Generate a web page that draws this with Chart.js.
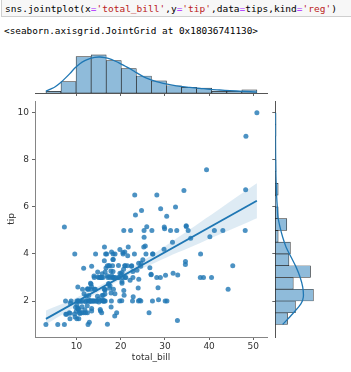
<!DOCTYPE html>
<html lang="en">
<head>
<meta charset="UTF-8">
<title>jointplot</title>
<script src="https://cdn.jsdelivr.net/npm/chart.js"></script>
<style>
    body { margin: 0; background: #fff; width: 351px; height: 372px; overflow: hidden; position: relative; }
    canvas { position: absolute; left: 0; top: 0; }
    .code {
        position: absolute; left: 1px; top: -3px; width: 360px; height: 20px;
        background: #f7f7f7; border: 1px solid #cfcfcf;
        font-family: "DejaVu Sans Mono", monospace; font-size: 9.5px; line-height: 12px;
        color: #000; box-sizing: border-box; padding: 5px 0 0 3px; white-space: pre;
    }
    .o { color: #aa22ff; }
    .s { color: #ba2121; }
    .out {
        position: absolute; left: 4px; top: 25px;
        font-family: "DejaVu Sans Mono", monospace; font-size: 9.4px; line-height: 12px;
        color: #000; white-space: pre;
    }
</style>
</head>
<body>
<div class="code">sns.jointplot(x<span class="o">=</span><span class="s">'total_bill'</span>,y<span class="o">=</span><span class="s">'tip'</span>,data<span class="o">=</span>tips,kind<span class="o">=</span><span class="s">'reg'</span>)</div>
<div class="out">&lt;seaborn.axisgrid.JointGrid at 0x18036741130&gt;</div>
<canvas id="joint" width="351" height="372"></canvas>
<canvas id="margX" width="351" height="372"></canvas>
<canvas id="margY" width="351" height="372"></canvas>

<script>
// scatter data (total_bill, tip)
const totalBill = [16.99,10.34,21.01,23.68,24.59,25.29,8.77,26.88,15.04,14.78,10.27,35.26,15.42,18.43,14.83,21.58,10.33,16.29,16.97,20.65,17.92,20.29,15.77,39.42,19.82,17.81,13.37,12.69,21.70,19.65,9.55,18.35,15.06,20.69,17.78,24.06,16.31,16.93,18.69,31.27,16.04,17.46,13.94,9.68,30.40,18.29,22.23,32.40,28.55,18.04,12.54,10.29,34.81,9.94,25.56,19.49,38.01,26.41,11.24,48.27,20.29,13.81,11.02,18.29,17.59,20.08,16.45,3.07,20.23,15.01,12.02,17.07,26.86,25.28,14.73,10.51,17.92,27.20,22.76,17.29,19.44,16.66,10.07,32.68,15.98,34.83,13.03,18.28,24.71,21.16,28.97,22.49,5.75,16.32,22.75,40.17,27.28,12.03,21.01,12.46,11.35,15.38,44.30,22.42,20.92,15.36,20.49,25.21,18.24,14.31,14.00,7.25,38.07,23.95,25.71,17.31,29.93,10.65,12.43,24.08,11.69,13.42,14.26,15.95,12.48,29.80,8.52,14.52,11.38,22.82,19.08,20.27,11.17,12.26,18.26,8.51,10.33,14.15,16.00,13.16,17.47,34.30,41.19,27.05,16.43,8.35,18.64,11.87,9.78,7.51,14.07,13.13,17.26,24.55,19.77,29.85,48.17,25.00,13.39,16.49,21.50,12.66,16.21,13.81,17.51,24.52,20.76,31.71,10.59,10.63,50.81,15.81,7.25,31.85,16.82,32.90,17.89,14.48,9.60,34.63,34.65,23.33,45.35,23.17,40.55,20.69,20.90,30.46,18.15,23.10,15.69,19.81,28.44,15.48,16.58,7.56,10.34,43.11,13.00,13.51,18.71,12.74,13.00,16.40,20.53,16.47,26.59,38.73,24.27,12.76,30.06,25.89,48.33,13.27,28.17,12.90,28.15,11.59,7.74,30.14,12.16,13.42,8.58,15.98,13.42,16.27,10.09,20.45,13.28,22.12,24.01,15.69,11.61,10.77,15.53,10.07,12.60,32.83,35.83,29.03,27.18,22.67,17.82,18.78];
const tips = [1.01,1.66,3.50,3.31,3.61,4.71,2.00,3.12,1.96,3.23,1.71,5.00,1.57,3.00,3.02,3.92,1.67,3.71,3.50,3.35,4.08,2.75,2.23,7.58,3.18,2.34,2.00,2.00,4.30,3.00,1.45,2.50,3.00,2.45,3.27,3.60,2.00,3.07,2.31,5.00,2.24,2.54,3.06,1.32,5.60,3.00,5.00,6.00,2.05,3.00,2.50,2.60,5.20,1.56,4.34,3.51,3.00,1.50,1.76,6.73,3.21,2.00,1.98,3.76,2.64,3.15,2.47,1.00,2.01,2.09,1.97,3.00,3.14,5.00,2.20,1.25,3.08,4.00,3.00,2.71,3.00,3.40,1.83,5.00,2.03,5.17,2.00,4.00,5.85,3.00,3.00,3.50,1.00,4.30,3.25,4.73,4.00,1.50,3.00,1.50,2.50,3.00,2.50,3.48,4.08,1.64,4.06,4.29,3.76,4.00,3.00,1.00,4.00,2.55,4.00,3.50,5.07,1.50,1.80,2.92,2.31,1.68,2.50,2.00,2.52,4.20,1.48,2.00,2.00,2.18,1.50,2.83,1.50,2.00,3.25,1.25,2.00,2.00,2.00,2.75,3.50,6.70,5.00,5.00,2.30,1.50,1.36,1.63,1.73,2.00,2.50,2.00,2.74,2.00,2.00,5.14,5.00,3.75,2.61,2.00,3.50,2.50,2.00,2.00,3.00,3.48,2.24,4.50,1.61,2.00,10.00,3.16,5.15,3.18,4.00,3.11,2.00,2.00,4.00,3.55,3.68,5.65,3.50,6.50,3.00,5.00,3.50,2.00,3.50,4.00,1.50,4.19,2.56,2.02,4.00,1.44,2.00,5.00,2.00,2.00,4.00,2.01,2.00,2.50,4.00,3.23,3.41,3.00,2.03,2.23,2.00,5.16,9.00,2.50,6.50,1.10,3.00,1.50,1.44,3.09,2.20,3.48,1.92,3.00,1.58,2.50,2.00,3.00,2.72,2.88,2.00,3.00,3.39,1.47,3.00,1.25,1.00,1.17,4.67,5.92,2.00,2.00,1.75,3.00];

// regression line + 95% band
const regX = [3.07, 50.81];
const regY = [1.24, 6.26];
const bandX     = [3.07, 8, 13, 18, 23, 28, 33, 38, 43, 48, 50.81];
const bandUpper = [1.60, 1.98, 2.43, 2.92, 3.47, 4.07, 4.71, 5.35, 6.00, 6.64, 7.00];
const bandLower = [1.00, 1.56, 2.15, 2.70, 3.21, 3.65, 4.07, 4.47, 4.88, 5.28, 5.52];

// marginal histogram of total_bill (bin centres, counts) + kde
const billBins   = [4.78, 8.19, 11.60, 15.01, 18.42, 21.83, 25.24, 28.65, 32.06, 35.47, 38.88, 42.29, 45.70, 49.11];
const billCounts = [2, 14, 45, 47, 40, 30, 21, 15, 9, 7, 6, 2, 2, 4];
const billKdeX = [3.07,3.96,5.09,6.22,7.35,8.48,9.62,10.75,11.88,13.0,14.14,15.27,16.4,17.53,18.67,19.8,20.93,22.06,23.19,24.32,25.45,26.58,28.1,29.6,31.1,33.4,35.6,37.9,40.2,42.4,44.7,47.7,50.81];
const billKdeY = [2.1,4.5,7.4,11.9,17.7,23.9,30.8,36.2,39.9,42.4,44.0,44.4,43.6,42.0,39.5,36.6,33.3,30.0,26.3,22.6,19.3,16.9,14.0,11.9,10.3,8.2,7.0,5.8,4.5,3.7,2.9,2.1,1.2];

// marginal histogram of tip + kde
const tipBins   = [1.25,1.75,2.25,2.75,3.25,3.75,4.25,4.75,5.25,5.75,6.25,6.75,7.25,7.75,8.25,8.75,9.25,9.75];
const tipCounts = [17, 28, 53, 25, 49, 19, 21, 4, 16, 4, 1, 4, 0, 1, 0, 0, 1, 1];
const tipKdeY = [1.0,1.46,1.89,2.17,2.6,3.02,3.45,3.87,4.3,4.72,5.15,5.57,6.0,6.43,6.85,7.28,8.0,8.98,10.0];
const tipKdeX = [10.2,24.2,35.8,39.0,38.1,34.4,28.8,21.9,14.9,10.2,6.5,3.7,2.8,1.9,1.4,0.9,0.5,0.3,0.2];

const xTicks = [10, 20, 30, 40, 50];
const yTicks = [2, 4, 6, 8, 10];

Chart.defaults.font.family = 'DejaVu Sans';
Chart.defaults.font.size = 9;
Chart.defaults.color = '#333';
Chart.defaults.animation = false;
Chart.defaults.responsive = false;
Chart.defaults.plugins.legend.display = false;
Chart.defaults.plugins.tooltip.enabled = false;

const blue = '#1f77b4';
const barFill = 'rgb(143,187,218)';
const barEdge = 'rgba(20,20,20,0.9)';

function pts(xs, ys) { return xs.map((x, i) => ({ x: x, y: ys[i] })); }

// main joint axes
new Chart(document.getElementById('joint'), {
    type: 'scatter',
    data: {
        datasets: [
            { type: 'line', data: pts(regX, regY), borderColor: blue, borderWidth: 1.8, pointRadius: 0, fill: false, order: 0 },
            { type: 'line', data: pts(bandX, bandUpper), borderWidth: 0, pointRadius: 0, tension: 0.3,
              fill: '+1', backgroundColor: 'rgba(31,119,180,0.15)', order: 1 },
            { type: 'line', data: pts(bandX, bandLower), borderWidth: 0, pointRadius: 0, tension: 0.3, fill: false, order: 2 },
            { data: pts(totalBill, tips), backgroundColor: 'rgba(31,119,180,0.8)', pointRadius: 2.5, borderWidth: 0, order: 3 }
        ]
    },
    options: {
        layout: { padding: { left: 4, top: 101, right: 84, bottom: 9 } },
        scales: {
            x: {
                type: 'linear', min: 0.6, max: 53.1,
                afterBuildTicks: s => { s.ticks = xTicks.map(v => ({ value: v })); },
                afterFit: s => { s.height = 26; },
                grid: { drawOnChartArea: false, tickLength: 3, tickColor: '#666' },
                border: { color: '#858585', width: 1 },
                ticks: { padding: 1, maxRotation: 0 },
                title: { display: true, text: 'total_bill', padding: { top: 0, bottom: 0 } }
            },
            y: {
                type: 'linear', min: 0.47, max: 10.5,
                afterBuildTicks: s => { s.ticks = yTicks.map(v => ({ value: v })); },
                afterFit: s => { s.width = 31; },
                grid: { drawOnChartArea: false, tickLength: 3, tickColor: '#666' },
                border: { color: '#858585', width: 1 },
                ticks: { padding: 3 },
                title: { display: true, text: 'tip', padding: { top: 2, bottom: 0 } }
            }
        }
    }
});

// top marginal: total_bill
new Chart(document.getElementById('margX'), {
    type: 'bar',
    data: {
        datasets: [
            { type: 'line', data: pts(billKdeX, billKdeY), borderColor: blue, borderWidth: 1.3, pointRadius: 0, tension: 0.3, fill: false, order: 0 },
            { type: 'bar', data: pts(billBins, billCounts), backgroundColor: barFill, borderColor: barEdge, borderWidth: 0.7,
              borderSkipped: false, barPercentage: 1, categoryPercentage: 1, grouped: false, order: 1 }
        ]
    },
    options: {
        layout: { padding: { left: 35, top: 53, right: 84, bottom: 276 } },
        scales: {
            x: {
                type: 'linear', min: 0.6, max: 53.1, offset: false,
                afterBuildTicks: s => { s.ticks = xTicks.map(v => ({ value: v })); },
                afterFit: s => { s.height = 3; },
                grid: { drawOnChartArea: false, tickLength: 3, tickColor: '#666', offset: false },
                border: { color: '#555', width: 1 },
                ticks: { display: false }
            },
            y: { type: 'linear', min: 0, max: 49.35, display: false }
        }
    }
});

// right marginal: tip
new Chart(document.getElementById('margY'), {
    type: 'bar',
    data: {
        datasets: [
            { type: 'line', data: pts(tipKdeX, tipKdeY), borderColor: blue, borderWidth: 1.3, pointRadius: 0, tension: 0.3, fill: false, order: 0 },
            { type: 'bar', data: tipBins.map((b, i) => ({ x: tipCounts[i], y: b })), backgroundColor: barFill, borderColor: barEdge, borderWidth: 0.7,
              borderSkipped: false, barPercentage: 1, categoryPercentage: 1, grouped: false, order: 1 }
        ]
    },
    options: {
        indexAxis: 'y',
        layout: { padding: { left: 272.3, top: 101, right: 35.7, bottom: 35 } },
        scales: {
            y: {
                type: 'linear', min: 0.47, max: 10.5, offset: false,
                afterBuildTicks: s => { s.ticks = yTicks.map(v => ({ value: v })); },
                afterFit: s => { s.width = 3; },
                grid: { drawOnChartArea: false, tickLength: 3, tickColor: '#666', offset: false },
                border: { color: '#555', width: 1 },
                ticks: { display: false }
            },
            x: { type: 'linear', min: 0, max: 55.65, display: false }
        }
    }
});
</script>
</body>
</html>
